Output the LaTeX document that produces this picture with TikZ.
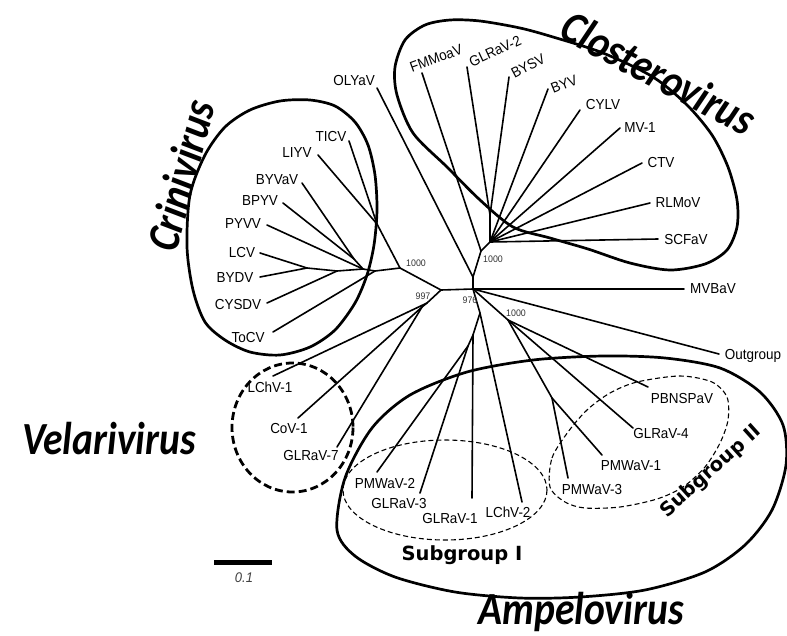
\documentclass[tikz,border=0pt]{standalone}
\usepackage{fontspec}
\setmainfont{Liberation Sans}
\newfontfamily\taxfont{Liberation Sans}[FakeStretch=0.93]
\newfontfamily\genusfont{Carlito}[FakeStretch=0.86]
\newfontfamily\subgrpfont{DejaVu Sans}
\usetikzlibrary{positioning}

\tikzset{
  branch/.style={line width=1.6pt, line cap=round, line join=round},
  taxon/.style={font=\taxfont\fontsize{14.5}{16}\selectfont, inner sep=0pt, text height=10.3pt, text depth=0pt},
  boot/.style={font=\taxfont\fontsize{9.5}{10}\selectfont, text=black!80, inner sep=0pt, text height=6.8pt, text depth=0pt},
  genus/.style={font=\genusfont\bfseries\itshape\fontsize{46}{50}\selectfont, inner sep=0pt, text height=29pt, text depth=0pt},
  subgrp/.style={font=\subgrpfont\bfseries\fontsize{19.5}{22}\selectfont, inner sep=0pt, text height=14.2pt, text depth=0pt},
  scalelbl/.style={font=\taxfont\itshape\fontsize{14}{16}\selectfont, text=black!75, inner sep=0pt, text height=10pt, text depth=0pt},
  clade/.style={line width=2.7pt},
  veladash/.style={line width=2.8pt, dash pattern=on 8pt off 4pt},
  subdash/.style={line width=1.1pt, dash pattern=on 5pt off 3pt},
}

\begin{document}
\begin{tikzpicture}[x=1pt, y=-1pt]
  \useasboundingbox (0,0) rectangle (787,635);

  % Clade outlines
  \draw[clade] plot[smooth cycle] coordinates {(187,247) (190,195) (205,155) (225,127) (250,110) (280,101) (310,100)
    (335,106) (355,122) (368,145) (375,175) (377,210) (374,245) (367,275) (355,303) (335,330) (310,347) (280,355)
    (250,352) (225,340) (205,322) (193,290)};
  \draw[clade] plot[smooth cycle] coordinates {(395,67) (405,40) (425,25) (450,20) (480,21) (520,28) (553,37) (603,53)
    (653,77) (687,105) (712,135) (728,167) (737,200) (737,227) (727,250) (705,264) (670,270) (630,263) (588,249)
    (550,238) (513,227) (480,200) (447,167) (413,133) (397,95)};
  \draw[clade] plot[smooth cycle] coordinates {(337,530) (345,478) (372,428) (410,395) (467,372) (533,360) (603,356)
    (665,358) (720,368) (760,392) (783,425) (786,465) (772,510) (745,545) (705,572) (645,590) (580,597) (520,598)
    (455,592) (395,577) (355,556)};
  \draw[veladash] (292.5,427.5) ellipse [x radius=60.5, y radius=64.5];
  \draw[subdash] (445,490) ellipse [x radius=102, y radius=50];
  \draw[subdash] plot[smooth cycle] coordinates {(550,487) (552,458) (568,432) (587,410) (610,393) (637,382) (680,376)
    (712,382) (727,397) (728,420) (720,443) (705,467) (683,487) (657,499) (620,507) (585,508) (565,502)};

  % Internal nodes
  \coordinate (n976) at (473,289);
  \coordinate (n997) at (441,290);
  \coordinate (nA) at (473,277);
  \coordinate (nClo) at (481,251);
  \coordinate (nCore) at (490,242);
  \coordinate (nGB) at (490,215);
  \coordinate (nCri) at (400,268);
  \coordinate (nTL) at (377,224);
  \coordinate (nM) at (375,271);
  \coordinate (nN) at (363,269);
  \coordinate (nP) at (354,259);
  \coordinate (nQ) at (337,271);
  \coordinate (nR) at (307,268);
  \coordinate (nV1) at (427,303);
  \coordinate (nV2) at (422,307);
  \coordinate (nS2) at (508,320);
  \coordinate (nS2b) at (552,398);
  \coordinate (nS1) at (480,313);
  \coordinate (nS1a) at (473,335);
  \coordinate (nS1b) at (468,346);

  % Tips
  \coordinate (t-olyav) at (377,88);
  \coordinate (t-fmmoav) at (422,73);
  \coordinate (t-glrav2) at (467,67);
  \coordinate (t-bysv) at (509,77);
  \coordinate (t-byv) at (548,89);
  \coordinate (t-cylv) at (580,110);
  \coordinate (t-mv1) at (620,128);
  \coordinate (t-ctv) at (642,163);
  \coordinate (t-rlmov) at (650,203);
  \coordinate (t-scfav) at (658,239);
  \coordinate (t-mvbav) at (684,289);
  \coordinate (t-outgrp) at (719,354);
  \coordinate (t-pbnspav) at (648,387);
  \coordinate (t-glrav4) at (633,428);
  \coordinate (t-pmwav1) at (602,455);
  \coordinate (t-pmwav3) at (568,478);
  \coordinate (t-pmwav2) at (377,472);
  \coordinate (t-glrav3) at (420,493);
  \coordinate (t-glrav1) at (472,498);
  \coordinate (t-lchv2) at (522,502);
  \coordinate (t-lchv1) at (273,376);
  \coordinate (t-cov1) at (298,418);
  \coordinate (t-glrav7) at (337,447);
  \coordinate (t-ticv) at (349,141);
  \coordinate (t-liyv) at (318,155);
  \coordinate (t-byvav) at (302,183);
  \coordinate (t-bpyv) at (283,203);
  \coordinate (t-pyvv) at (267,225);
  \coordinate (t-lcv) at (260,253);
  \coordinate (t-bydv) at (260,277);
  \coordinate (t-cysdv) at (267,303);
  \coordinate (t-tocv) at (273,332);

  % Backbone
  \draw[branch] (n997) -- (n976) -- (nA) -- (nClo) -- (nCore);
  \draw[branch] (nCri) -- (n997) -- (nV1) -- (nV2);
  \draw[branch] (n976) -- (nS2) -- (nS2b);
  \draw[branch] (n976) -- (nS1) -- (nS1a) -- (nS1b);

  % Closterovirus
  \draw[branch] (nA) -- (t-olyav);
  \draw[branch] (nClo) -- (t-fmmoav);
  \draw[branch] (nCore) -- (nGB) -- (t-glrav2);
  \draw[branch] (nGB) -- (t-bysv);
  \draw[branch] (nCore) -- (t-byv);
  \draw[branch] (nCore) -- (t-cylv);
  \draw[branch] (nCore) -- (t-mv1);
  \draw[branch] (nCore) -- (t-ctv);
  \draw[branch] (nCore) -- (t-rlmov);
  \draw[branch] (nCore) -- (t-scfav);

  % Crinivirus
  \draw[branch] (nCri) -- (nTL) -- (t-ticv);
  \draw[branch] (nTL) -- (t-liyv);
  \draw[branch] (nCri) -- (nM) -- (nN) -- (nQ) -- (nR);
  \draw[branch] (nM) -- (t-tocv);
  \draw[branch] (nN) -- (t-pyvv);
  \draw[branch] (nN) -- (nP) -- (t-byvav);
  \draw[branch] (nP) -- (t-bpyv);
  \draw[branch] (nQ) -- (t-cysdv);
  \draw[branch] (nR) -- (t-lcv);
  \draw[branch] (nR) -- (t-bydv);

  % Velarivirus
  \draw[branch] (nV1) -- (t-lchv1);
  \draw[branch] (nV2) -- (t-cov1);
  \draw[branch] (nV2) -- (t-glrav7);

  % Ampelovirus and the rest
  \draw[branch] (n976) -- (t-mvbav);
  \draw[branch] (n976) -- (t-outgrp);
  \draw[branch] (nS2) -- (t-pbnspav);
  \draw[branch] (nS2) -- (t-glrav4);
  \draw[branch] (nS2b) -- (t-pmwav1);
  \draw[branch] (nS2b) -- (t-pmwav3);
  \draw[branch] (nS1) -- (t-lchv2);
  \draw[branch] (nS1a) -- (t-glrav1);
  \draw[branch] (nS1b) -- (t-pmwav2);
  \draw[branch] (nS1b) -- (t-glrav3);

  % Taxon labels
  \node[taxon] (olyav) at (354,80) {OLYaV};
  \node[taxon, rotate=20] (fmmoav) at (436,58) {FMMoaV};
  \node[taxon, rotate=25] (glrav2) at (495,51) {GLRaV-2};
  \node[taxon, rotate=28] (bysv) at (528,66) {BYSV};
  \node[taxon, rotate=22] (byv) at (564,84) {BYV};
  \node[taxon] (cylv) at (603,104) {CYLV};
  \node[taxon] (mv1) at (640,127) {MV-1};
  \node[taxon] (ctv) at (661,162) {CTV};
  \node[taxon] (rlmov) at (678,202) {RLMoV};
  \node[taxon] (scfav) at (686,239) {SCFaV};
  \node[taxon] (mvbav) at (713,288) {MVBaV};
  \node[taxon] (outgrp) at (753,354) {Outgroup};
  \node[taxon] (pbnspav) at (682,398) {PBNSPaV};
  \node[taxon] (glrav4) at (661,433) {GLRaV-4};
  \node[taxon] (pmwav1) at (631,465) {PMWaV-1};
  \node[taxon] (pmwav3) at (592,489) {PMWaV-3};
  \node[taxon] (pmwav2) at (385,483) {PMWaV-2};
  \node[taxon] (glrav3) at (399,503) {GLRaV-3};
  \node[taxon] (glrav1) at (450,518) {GLRaV-1};
  \node[taxon] (lchv2) at (508,512) {LChV-2};
  \node[taxon] (lchv1) at (270,387) {LChV-1};
  \node[taxon] (cov1) at (289,428) {CoV-1};
  \node[taxon] (glrav7) at (311,455) {GLRaV-7};
  \node[taxon] (ticv) at (331,136) {TICV};
  \node[taxon] (liyv) at (297,152) {LIYV};
  \node[taxon] (byvav) at (277,179) {BYVaV};
  \node[taxon] (bpyv) at (260,200) {BPYV};
  \node[taxon] (pyvv) at (243,223) {PYVV};
  \node[taxon] (lcv) at (242,252) {LCV};
  \node[taxon] (bydv) at (235,277) {BYDV};
  \node[taxon] (cysdv) at (238,304) {CYSDV};
  \node[taxon] (tocv) at (248,337) {ToCV};

  % Bootstrap values
  \node[boot] (bs-cri) at (416,263) {1000};
  \node[boot] (bs-997) at (423,296) {997};
  \node[boot] (bs-976) at (470,300) {976};
  \node[boot] (bs-clo) at (493,259) {1000};
  \node[boot] (bs-sg2) at (516,313) {1000};

  % Genus and subgroup names
  \node[genus, rotate=-28] (clostero) at (658,74) {Closterovirus};
  \node[genus, rotate=75] (crini) at (182,176) {Crinivirus};
  \node[genus] (velari) at (109,440) {Velarivirus};
  \node[genus] (ampelo) at (581,610) {Ampelovirus};
  \node[subgrp] (sg1) at (462,553) {Subgroup I};
  \node[subgrp, rotate=42] (sg2) at (710,470) {Subgroup II};

  % Scale bar
  \coordinate (bar-l) at (214,562);
  \coordinate (bar-r) at (272,562);
  \coordinate (bar-m) at (244,562);
  \draw[line width=5pt] (bar-l) -- (bar-r);
  \node[scalelbl, below=10pt of bar-m] (bar-lbl) {0.1};
\end{tikzpicture}
\end{document}
